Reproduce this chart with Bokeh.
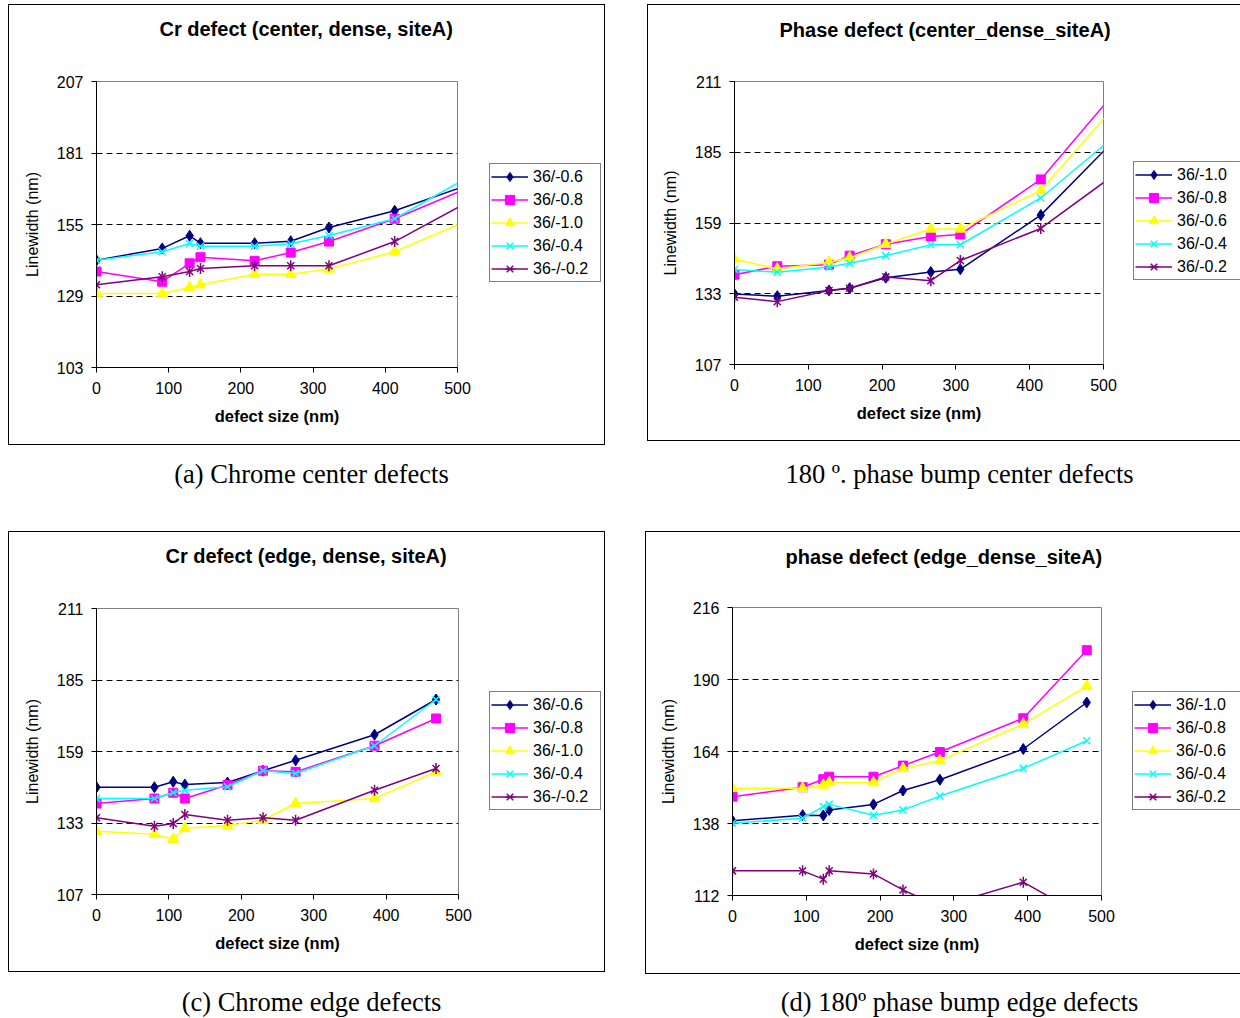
import numpy as np
from bokeh.plotting import figure
from bokeh.models import FixedTicker, Legend, LegendItem, Div, Spacer, Title
from bokeh.layouts import column, row
from bokeh.embed import file_html
from bokeh.resources import INLINE

SANS = "Liberation Sans"
SERIF = "Liberation Serif"

X_TICKS = [0, 100, 200, 300, 400, 500]

# (a) chrome defects at the line centre
a_size = [0, 91, 129, 144, 219, 269, 322, 413, 520]
a_06 = [142.0, 146.3, 150.9, 148.2, 148.2, 148.9, 153.9, 160.0, 169.9]
a_08 = [137.9, 134.2, 140.9, 143.1, 141.8, 144.8, 148.8, 157.1, 168.9]
a_10 = [129.9, 129.9, 132.1, 133.1, 136.9, 136.9, 138.8, 145.1, 157.1]
a_04 = [142.0, 145.1, 148.1, 147.1, 147.1, 148.0, 151.0, 157.1, 173.0]
a_02 = [133.1, 136.0, 137.9, 139.0, 140.0, 140.0, 140.0, 148.8, 164.0]
a_yticks = [103, 129, 155, 181, 207]

# (b) 180 degree phase bump at the line centre
b_size = [0, 58, 128, 156, 205, 266, 306, 415, 520]
b_10 = [132.9, 132.1, 134.2, 135.0, 138.9, 141.0, 142.0, 161.9, 190.9]
b_08 = [140.0, 143.1, 143.7, 147.0, 151.2, 154.0, 154.8, 175.0, 208.5]
b_06 = [145.8, 142.1, 144.6, 146.2, 151.2, 156.8, 156.8, 170.9, 203.4]
b_04 = [141.9, 140.9, 142.8, 144.2, 147.0, 151.0, 151.0, 168.2, 192.0]
b_02 = [131.7, 130.1, 134.2, 135.0, 139.2, 137.8, 145.2, 157.0, 177.8]
b_yticks = [107, 133, 159, 185, 211]

# (c) chrome defects at the line edge
c_size = [0, 80, 106, 122, 181, 230, 275, 384, 469]
c_06 = [146.0, 146.0, 148.0, 147.0, 147.7, 152.0, 155.8, 165.1, 177.9]
c_08 = [140.1, 141.9, 144.0, 141.9, 146.8, 152.0, 151.6, 161.1, 171.0]
c_10 = [130.0, 128.9, 127.1, 131.1, 132.1, 134.0, 140.1, 141.9, 151.6]
c_04 = [141.9, 141.9, 144.0, 144.9, 146.2, 152.0, 151.0, 161.1, 177.9]
c_02 = [134.9, 131.8, 132.8, 136.1, 134.0, 134.9, 134.0, 144.9, 152.8]
c_yticks = [107, 133, 159, 185, 211]

# (d) 180 degree phase bump at the line edge
d_size = [0, 95, 123, 131, 191, 231, 281, 394, 480]
d_10 = [139.0, 141.0, 140.9, 142.9, 144.9, 149.9, 153.8, 164.9, 181.7]
d_08 = [147.7, 151.1, 154.0, 154.9, 154.9, 158.9, 163.8, 176.0, 200.6]
d_06 = [150.7, 150.7, 151.9, 152.8, 152.8, 157.9, 160.7, 173.9, 187.6]
d_04 = [138.1, 139.9, 144.1, 144.9, 141.0, 142.9, 147.9, 157.9, 167.9]
d_02 = [120.9, 120.9, 117.9, 120.9, 119.8, 114.0, 107.9, 116.8, 104.0]
d_yticks = [112, 138, 164, 190, 216]

NAVY, MAGENTA, YELLOW, CYAN, PURPLE = "#000080", "#FF00FF", "#FFFF00", "#00FFFF", "#800080"


def add_series(p, xs, ys, color, marker):
    rends = [p.line(xs, ys, line_color=color, line_width=1.5)]
    if marker == "diamond":
        rends.append(p.scatter(xs, ys, marker="diamond", size=11,
                               fill_color=color, line_color=color))
    elif marker == "square":
        rends.append(p.scatter(xs, ys, marker="square", size=9,
                               fill_color=color, line_color=color))
    elif marker == "triangle":
        rends.append(p.scatter(xs, ys, marker="triangle", size=11,
                               fill_color=color, line_color=color))
    elif marker == "x":
        rends.append(p.scatter(xs, ys, marker="x", size=10,
                               line_color=color, line_width=1.5))
    elif marker == "star":
        rends.append(p.scatter(xs, ys, marker="x", size=10,
                               line_color=color, line_width=1.5))
        rends.append(p.scatter(xs, ys, marker="dash", angle=np.pi / 2, size=11,
                               line_color=color, line_width=1.5))
    return rends


def make_chart(title, title_offset, title_gap, xs, series, yticks, main_w, leg_w, height,
               border_l, border_t, border_b, legend_loc):
    # plotting area with axes and grid
    p = figure(width=main_w, height=height, x_range=(0, 500),
               y_range=(yticks[0], yticks[-1]), title=title,
               output_backend="svg", toolbar_location=None,
               min_border_left=border_l, min_border_right=20,
               min_border_top=border_t, min_border_bottom=border_b,
               background_fill_color="white", border_fill_color="white")
    p.title.align = "left"
    p.title.offset = title_offset
    p.title.standoff = 0
    p.title.text_font = SANS
    p.title.text_font_size = "20px"
    p.title.text_font_style = "bold"
    p.title.text_color = "black"
    # blank white row between the frame and the chart title
    p.add_layout(Title(text="x", text_font_size="2px", text_color="white",
                       standoff=title_gap), "above")

    p.outline_line_color = "#808080"
    p.outline_line_width = 1

    p.xaxis.ticker = FixedTicker(ticks=X_TICKS)
    p.yaxis.ticker = FixedTicker(ticks=yticks)
    for ax in (p.xaxis[0], p.yaxis[0]):
        ax.axis_line_color = "black"
        ax.major_tick_line_color = "black"
        ax.major_tick_in = 0
        ax.major_tick_out = 5
        ax.minor_tick_line_color = None
        ax.major_label_text_font = SANS
        ax.major_label_text_font_size = "16px"
        ax.major_label_text_color = "black"
        ax.axis_label_text_font = SANS
        ax.axis_label_text_color = "black"
    p.xaxis.axis_label = "defect size (nm)"
    p.xaxis.axis_label_text_font_style = "bold"
    p.xaxis.axis_label_text_font_size = "16.5px"
    p.xaxis.major_label_standoff = 9
    p.xaxis.axis_label_standoff = 10
    p.yaxis.axis_label = "Linewidth (nm)"
    p.yaxis.axis_label_text_font_style = "normal"
    p.yaxis.axis_label_text_font_size = "16px"
    p.yaxis.major_label_standoff = 8
    p.yaxis.axis_label_standoff = 13

    p.xgrid.visible = False
    p.ygrid.grid_line_color = "black"
    p.ygrid.grid_line_dash = "6 4"
    p.ygrid.grid_line_width = 1

    for name, ys, color, marker in series:
        add_series(p, xs, ys, color, marker)

    # legend panel to the right of the plotting area; its ranges keep the
    # series themselves out of view so only the legend shows
    lf = figure(width=leg_w, height=height, x_range=(-2, -1), y_range=(-2, -1),
                x_axis_type=None, y_axis_type=None,
                output_backend="svg", toolbar_location=None, min_border=0,
                outline_line_color=None,
                background_fill_color="white", border_fill_color="white")
    items = []
    for name, ys, color, marker in series:
        rends = add_series(lf, xs, ys, color, marker)
        items.append(LegendItem(label=name, renderers=rends))
    legend = Legend(items=items, location=legend_loc, margin=0, padding=1,
                    spacing=0, glyph_width=37, glyph_height=23,
                    label_height=23, label_width=66, label_standoff=5,
                    label_text_font=SANS, label_text_font_size="16px",
                    label_text_color="black",
                    border_line_color="black", border_line_width=1,
                    background_fill_color="white", background_fill_alpha=1)
    lf.add_layout(legend)

    return row(p, lf, styles={"box-shadow": "0 0 0 1px #000"})


box_a = make_chart("Cr defect (center, dense, siteA)", 63, 38, a_size, [
    ("36/-0.6", a_06, NAVY, "diamond"),
    ("36/-0.8", a_08, MAGENTA, "square"),
    ("36/-1.0", a_10, YELLOW, "triangle"),
    ("36/-0.4", a_04, CYAN, "x"),
    ("36-/-0.2", a_02, PURPLE, "star"),
], a_yticks, 468, 127, 439, 87, 76, 77, (12, 85))

box_b = make_chart("Phase defect (center_dense_siteA)", 45, 37, b_size, [
    ("36/-1.0", b_10, NAVY, "diamond"),
    ("36/-0.8", b_08, MAGENTA, "square"),
    ("36/-0.6", b_06, YELLOW, "triangle"),
    ("36/-0.4", b_04, CYAN, "x"),
    ("36/-0.2", b_02, PURPLE, "star"),
], b_yticks, 475, 117, 435, 86, 76, 76, (10, 84))

box_c = make_chart("Cr defect (edge, dense, siteA)", 69, 38, c_size, [
    ("36/-0.6", c_06, NAVY, "diamond"),
    ("36/-0.8", c_08, MAGENTA, "square"),
    ("36/-1.0", c_10, YELLOW, "triangle"),
    ("36/-0.4", c_04, CYAN, "x"),
    ("36-/-0.2", c_02, PURPLE, "star"),
], c_yticks, 469, 126, 439, 87, 76, 77, (11, 84))

box_d = make_chart("phase defect (edge_dense_siteA)", 53, 36, d_size, [
    ("36/-1.0", d_10, NAVY, "diamond"),
    ("36/-0.8", d_08, MAGENTA, "square"),
    ("36/-0.6", d_06, YELLOW, "triangle"),
    ("36/-0.4", d_04, CYAN, "x"),
    ("36/-0.2", d_02, PURPLE, "star"),
], d_yticks, 475, 119, 441, 86, 75, 78, (11, 85))


def caption(text, width, height, pad_top):
    html = ('<div style="width: %dpx; font-family: \'%s\'; font-size: 26.5px; line-height: 30px; '
            'text-align: center; color: #000; padding-top: %dpx; white-space: nowrap;">%s</div>'
            % (width, SERIF, pad_top, text))
    return Div(text=html, width=width, height=height, margin=0)


cap_a = caption("(a) Chrome center defects", 623, 88, 15)
cap_b = caption("180 \u00ba. phase bump center defects", 561, 88, 15)
cap_c = caption("(c) Chrome edge defects", 623, 40, 14)
cap_d = caption("(d) 180\u00ba phase bump edge defects", 561, 40, 14)

root = column(
    Spacer(width=1240, height=5),
    row(Spacer(width=9, height=439), box_a, Spacer(width=44, height=439), box_b),
    row(cap_a, Spacer(width=56, height=88), cap_b),
    row(Spacer(width=9, height=441), box_c, Spacer(width=42, height=441), box_d),
    row(cap_c, Spacer(width=56, height=40), cap_d),
)

open("out.html", "w").write(file_html(root, INLINE, title="Linewidth vs defect size"))
